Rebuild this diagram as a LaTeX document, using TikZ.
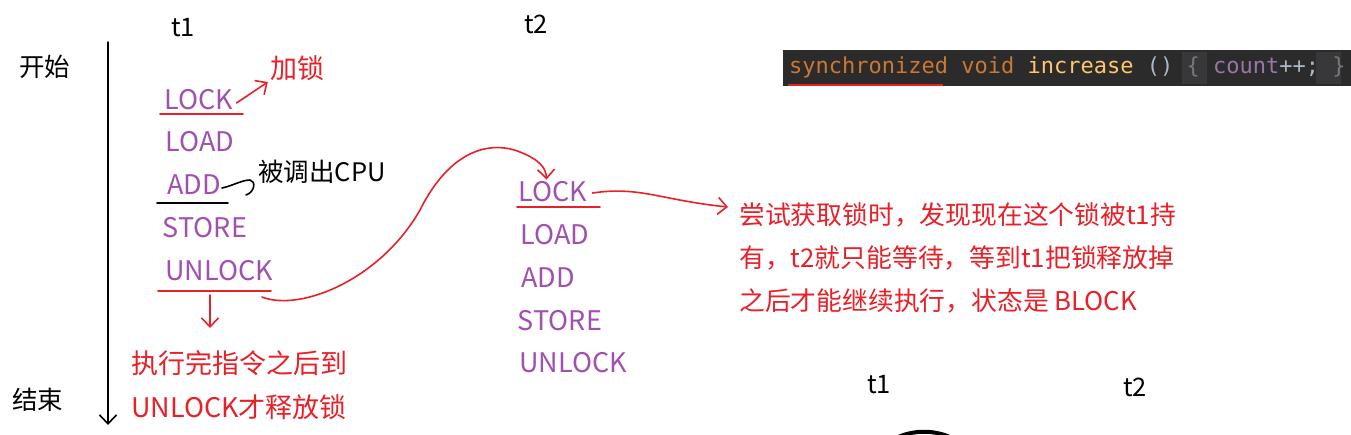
\documentclass[tikz,border=0pt]{standalone}
\usepackage{fontspec}
\setmainfont{Noto Sans CJK SC}
\newfontfamily\codefont{DejaVu Sans Mono}
\usetikzlibrary{arrows.meta,calc}
\definecolor{purp}{RGB}{160,80,175}
\definecolor{redpen}{RGB}{232,32,40}
\definecolor{codebg}{RGB}{43,43,43}
\definecolor{codebox}{RGB}{56,56,58}
\definecolor{kw}{RGB}{204,120,50}
\definecolor{fn}{RGB}{255,198,109}
\definecolor{plain}{RGB}{169,183,198}
\definecolor{fld}{RGB}{152,118,170}
\definecolor{brace}{RGB}{120,120,120}
\tikzset{
  instr/.style={text=purp, font=\fontsize{27}{30}\selectfont, inner sep=0pt},
  lbl/.style={text=black, font=\fontsize{25.5}{28}\selectfont, inner sep=0pt},
  rednote/.style={text=redpen, font=\fontsize{27}{30}\selectfont, inner sep=0pt},
  pen/.style={line width=1.6pt, line cap=round, line join=round},
  barb/.style={-{Straight Barb[length=9pt,width=17pt,line width=1.6pt]}},
}
\begin{document}
\begin{tikzpicture}[x=1pt,y=-1pt]
\useasboundingbox (0,0) rectangle (1351,434);
\fill[white] (0,0) rectangle (1351,434);

% time axis
\node[lbl] (start) at (45,67) {开始};
\node[lbl] (finish) at (38,400) {结束};
\coordinate (axtop) at (108,42);
\coordinate (axbot) at (108,425);
\draw[pen, line width=1.5pt, barb] (axtop) -- (axbot);

% thread labels
\node[lbl] (t1) at (183,28) {t1};
\node[lbl] (t2) at (536,24) {t2};

% t1 instructions
\node[instr] (lockA) at (199,100) {LOCK};
\node[instr] (loadA) at (200,142) {LOAD};
\node[instr] (addA) at (194,185) {ADD};
\node[instr] (storeA) at (205,228) {STORE};
\node[instr] (unlockA) at (219,271) {UNLOCK};

\coordinate (ulA1) at (160,114); \coordinate (ulA2) at (243,114);
\draw[pen, redpen] (ulA1) -- (ulA2);
\coordinate (ulB1) at (157,203); \coordinate (ulB2) at (228,203);
\draw[pen, black] (ulB1) -- (ulB2);
\coordinate (ulC1) at (158,291); \coordinate (ulC2) at (271,291);
\draw[pen, redpen] (ulC1) -- (ulC2);

% lock note
\node[rednote] (jiasuo) at (297,68) {加锁};
\draw[pen, redpen, barb] ($(lockA.east)+(3,3)$) -- ($(jiasuo.west)+(-2,14)$);

% swapped out note
\node[lbl] (cpu) at (322,172) {被调出CPU};
\draw[pen, black] ($(addA.east)+(1,3)$) .. controls (232,186) and (242,180) .. (250,180)
  .. controls (256,181) and (255,192) .. (246,195);

% unlock note
\node[rednote, anchor=west] (relA) at (131,363) {执行完指令之后到};
\node[rednote, anchor=west] (relB) at (131,407) {UNLOCK才释放锁};
\coordinate (dnA) at (210,295);
\draw[pen, redpen, barb] (dnA) -- (210,328);

% t2 instructions
\node[instr] (lockB) at (553,192) {LOCK};
\node[instr] (loadB) at (555,235) {LOAD};
\node[instr] (addB) at (548,278) {ADD};
\node[instr] (storeB) at (560,321) {STORE};
\node[instr] (unlockB) at (573,363) {UNLOCK};
\coordinate (ulD1) at (517,207); \coordinate (ulD2) at (600,207);
\draw[pen, redpen] (ulD1) -- (ulD2);

% hand-over curve
\coordinate (curveS) at (262,297);
\draw[pen, redpen, barb] (curveS) .. controls (300,312) and (380,280) .. (420,210)
  .. controls (450,150) and (490,140) .. (520,152)
  .. controls (540,160) and (546,168) .. ($(lockB.north west)+(28,-2)$);

% block note
\node[rednote, anchor=west, align=left, font=\fontsize{25.8}{43}\selectfont] (block) at (739,258)
  {尝试获取锁时，发现现在这个锁被t1持\\有，t2就只能等待，等到t1把锁释放掉\\之后才能继续执行，状态是 BLOCK};
\draw[pen, redpen, barb] ($(lockB.east)+(5,1)$) .. controls (640,186) and (660,200) .. (728,207);

% code bar
\fill[codebg] (783,50) rectangle (1351,86);
\fill[codebox] (1182,52) rectangle (1207,84);
\fill[codebox] (1316,52) rectangle (1341,84);
\node[inner sep=0pt, anchor=west, font=\codefont\fontsize{22}{26}\selectfont] (code) at (789,67)
  {\textcolor{kw}{synchronized void }\textcolor{fn}{increase }\textcolor{plain}{() }\textcolor{brace}{\{ }\textcolor{fld}{count}\textcolor{plain}{++; }\textcolor{brace}{\}}};
\coordinate (cu1) at (788,85); \coordinate (cu2) at (943,85);
\draw[redpen, line width=2pt] (cu1) -- (cu2);

% bottom labels
\node[lbl] (bt1) at (879,385) {t1};
\node[lbl] (bt2) at (1135,387) {t2};
\coordinate (arcL) at (893,440); \coordinate (arcR) at (955,440);
\draw[black, line width=4pt] (arcL) .. controls (910,429) and (938,429) .. (arcR);
\end{tikzpicture}
\end{document}
